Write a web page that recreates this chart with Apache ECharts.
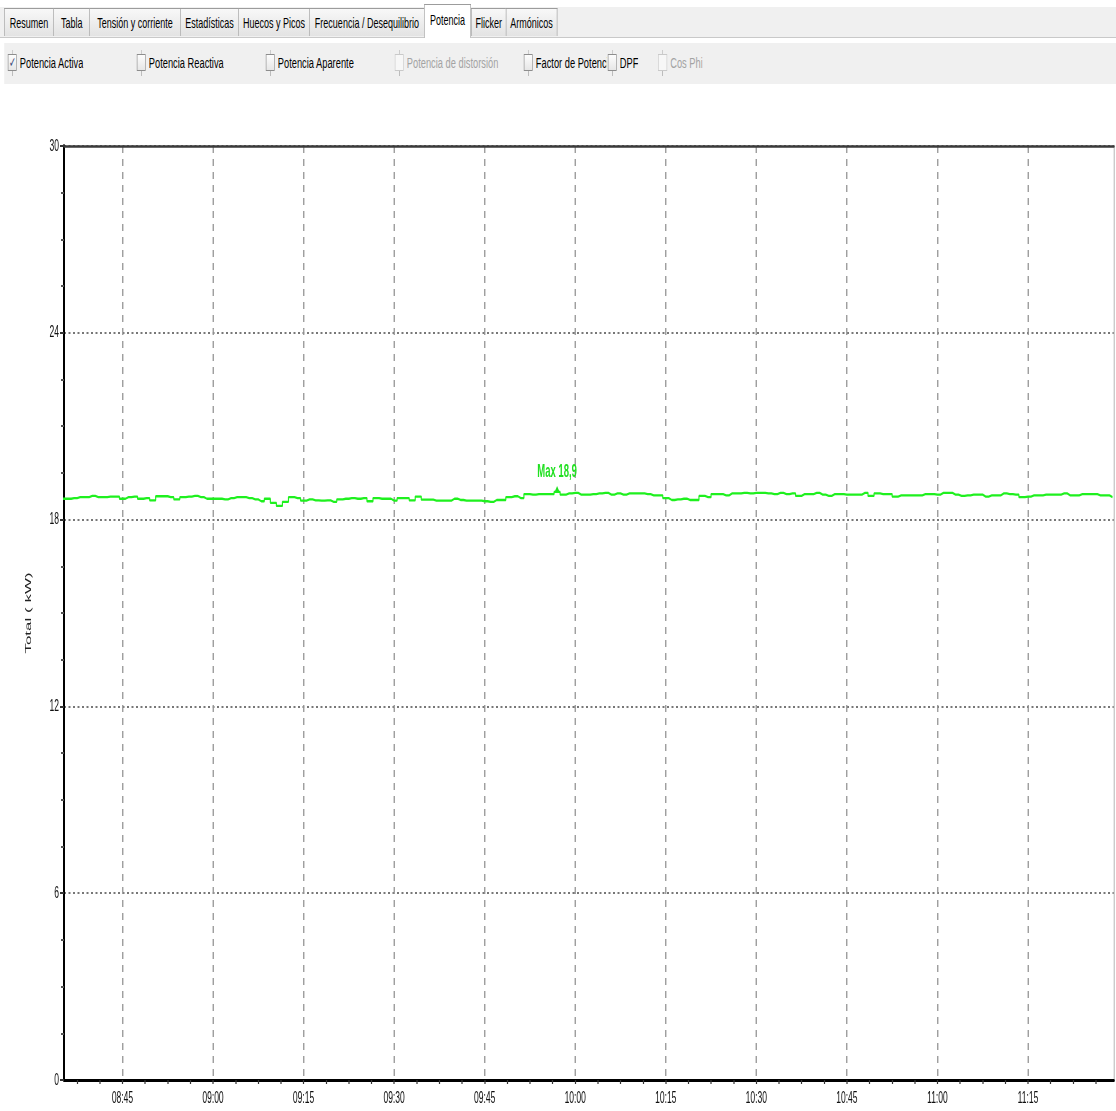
<!DOCTYPE html>
<html>
<head>
<meta charset="utf-8">
<script src="https://cdn.jsdelivr.net/npm/echarts@6/dist/echarts.min.js"></script>
<style>
  html, body { margin:0; padding:0; background:#fff; overflow:hidden; width:1116px; height:1111px; }
  #wrap { position:absolute; left:0; top:0; width:1860px; height:90px; transform:scaleX(0.6); transform-origin:0 0; }
  .ui { font-family:'Liberation Sans', Arial, sans-serif; font-size:15px; color:#000; white-space:nowrap; }
  #tabbar { position:absolute; left:0; top:7px; width:1860px; height:30px; background:#f0f0f0; border-bottom:1px solid #c9c9c9; }
  .tab { position:absolute; top:8px; height:28px; line-height:28px; text-align:center; border:1px solid #9c9c9c; border-bottom:none; border-right:none; background:linear-gradient(#f8f8f8,#e3e3e3); box-sizing:border-box; }
  .tab.active { top:4px; height:34px; line-height:30px; background:#fff; border:1px solid #9c9c9c; border-bottom:none; z-index:2; }
  #checks { position:absolute; left:7px; top:43px; width:1853px; height:41px; background:#f0f0f0; }
  .cb { position:absolute; top:54px; width:15px; height:17px; border:1px solid #8d8d8d; background:linear-gradient(#fdfdfd,#e6e6e6); box-sizing:border-box; font-size:14px; line-height:15px; text-align:center; color:#3a4a7a; }
  .cb::after { content:''; position:absolute; left:6px; top:16px; width:1px; height:5px; background:#9a9a9a; }
  .cb::before { content:''; position:absolute; left:6px; top:-5px; width:1px; height:4px; background:#b5b5b5; }
  .cb.dis { border-color:#c9c9c9; background:#f7f7f7; }
  .lbl { position:absolute; top:54px; height:18px; line-height:18px; overflow:hidden; font-size:15.5px; }
  .lbl.dis { color:#a3a3a3; }
  #chartwrap { position:absolute; left:0; top:90px; width:2232px; height:1021px; transform:scaleX(0.5); transform-origin:0 0; }
  #chart { position:absolute; left:0; top:0; width:2232px; height:1021px; }
</style>
</head>
<body>
<div id="wrap">
  <div id="tabbar" class="ui"></div>
  <div class="ui">
    <div class="tab" style="left:7px;width:82px;">Resumen</div>
    <div class="tab" style="left:89px;width:60px;">Tabla</div>
    <div class="tab" style="left:149px;width:151px;">Tensión y corriente</div>
    <div class="tab" style="left:300px;width:97px;">Estadísticas</div>
    <div class="tab" style="left:397px;width:118px;">Huecos y Picos</div>
    <div class="tab" style="left:515px;width:192px;">Frecuencia / Desequilibrio</div>
    <div class="tab active" style="left:707px;width:78px;">Potencia</div>
    <div class="tab" style="left:785px;width:58px;">Flicker</div>
    <div class="tab" style="left:843px;width:86px;border-right:1px solid #9c9c9c;">Armónicos</div>
  </div>
  <div id="checks"></div>
  <div class="ui">
    <div class="cb" style="left:13px;">✓</div><div class="lbl" style="left:33px;">Potencia Activa</div>
    <div class="cb" style="left:228px;"></div><div class="lbl" style="left:248px;">Potencia Reactiva</div>
    <div class="cb" style="left:443px;"></div><div class="lbl" style="left:463px;">Potencia Aparente</div>
    <div class="cb dis" style="left:658px;"></div><div class="lbl dis" style="left:678px;">Potencia de distorsión</div>
    <div class="cb" style="left:873px;"></div><div class="lbl" style="left:893px;width:118px;">Factor de Potencia</div>
    <div class="cb" style="left:1013px;"></div><div class="lbl" style="left:1033px;">DPF</div>
    <div class="cb dis" style="left:1097px;"></div><div class="lbl dis" style="left:1117px;">Cos Phi</div>
  </div>
</div>
<div id="chartwrap"><div id="chart"></div></div>
<script>
// ---------- data ----------
const times = [
  '08:35','08:36','08:37','08:38','08:39','08:40','08:41','08:42','08:43','08:44',
  '08:45','08:46','08:47','08:48','08:49','08:50','08:51','08:52','08:53','08:54',
  '08:55','08:56','08:57','08:58','08:59','09:00','09:01','09:02','09:03','09:04',
  '09:05','09:06','09:07','09:08','09:09','09:10','09:11','09:12','09:13','09:14',
  '09:15','09:16','09:17','09:18','09:19','09:20','09:21','09:22','09:23','09:24',
  '09:25','09:26','09:27','09:28','09:29','09:30','09:31','09:32','09:33','09:34',
  '09:35','09:36','09:37','09:38','09:39','09:40','09:41','09:42','09:43','09:44',
  '09:45','09:46','09:47','09:48','09:49','09:50','09:51','09:52','09:53','09:54',
  '09:55','09:56','09:57','09:58','09:59','10:00','10:01','10:02','10:03','10:04',
  '10:05','10:06','10:07','10:08','10:09','10:10','10:11','10:12','10:13','10:14',
  '10:15','10:16','10:17','10:18','10:19','10:20','10:21','10:22','10:23','10:24',
  '10:25','10:26','10:27','10:28','10:29','10:30','10:31','10:32','10:33','10:34',
  '10:35','10:36','10:37','10:38','10:39','10:40','10:41','10:42','10:43','10:44',
  '10:45','10:46','10:47','10:48','10:49','10:50','10:51','10:52','10:53','10:54',
  '10:55','10:56','10:57','10:58','10:59','11:00','11:01','11:02','11:03','11:04',
  '11:05','11:06','11:07','11:08','11:09','11:10','11:11','11:12','11:13','11:14',
  '11:15','11:16','11:17','11:18','11:19','11:20','11:21','11:22','11:23','11:24',
  '11:25','11:26','11:27','11:28','11:29'
];
const activePowerKW = [
  18.67,18.67,18.69,18.72,18.72,18.76,18.72,18.72,18.74,18.74,
  18.67,18.72,18.74,18.67,18.69,18.62,18.75,18.75,18.72,18.65,
  18.72,18.74,18.76,18.72,18.67,18.67,18.67,18.65,18.69,18.72,
  18.72,18.69,18.65,18.59,18.67,18.54,18.44,18.57,18.72,18.69,
  18.61,18.65,18.62,18.61,18.62,18.57,18.65,18.67,18.69,18.67,
  18.69,18.59,18.69,18.67,18.67,18.61,18.69,18.69,18.62,18.74,
  18.64,18.64,18.61,18.61,18.61,18.67,18.63,18.61,18.61,18.61,
  18.59,18.57,18.63,18.63,18.72,18.75,18.69,18.82,18.80,18.82,
  18.82,18.82,18.89,18.80,18.84,18.86,18.80,18.80,18.82,18.84,
  18.86,18.80,18.84,18.80,18.84,18.84,18.84,18.82,18.78,18.78,
  18.69,18.63,18.65,18.67,18.63,18.63,18.76,18.72,18.82,18.82,
  18.78,18.84,18.84,18.86,18.84,18.86,18.86,18.84,18.82,18.86,
  18.82,18.84,18.76,18.82,18.82,18.86,18.80,18.76,18.82,18.82,
  18.80,18.80,18.80,18.86,18.76,18.84,18.82,18.82,18.74,18.78,
  18.78,18.78,18.78,18.82,18.82,18.80,18.86,18.86,18.80,18.76,
  18.78,18.80,18.80,18.74,18.78,18.78,18.84,18.82,18.80,18.72,
  18.74,18.78,18.78,18.80,18.80,18.80,18.84,18.78,18.78,18.82,
  18.82,18.82,18.78,18.78,18.72
];
const xTickLabels = ['08:45','09:00','09:15','09:30','09:45','10:00','10:15','10:30','10:45','11:00','11:15'];
const xAxisStart = '08:35:19';
const xAxisEnd = '11:29:15';
const yTicks = [0, 6, 12, 18, 24, 30];
const yAxisTitle = 'Total ( kW)';
// ---------- helpers ----------
function toMin(s) { const p = s.split(':').map(Number); return p[0] * 60 + p[1] + (p[2] || 0) / 60; }
function fmt(v) { const h = Math.floor(v / 60 + 1e-6), m = Math.round(v - h * 60); return String(h).padStart(2, '0') + ':' + String(m).padStart(2, '0'); }
const S = 0.5; // horizontal squeeze of the chart canvas
const xMin = toMin(xAxisStart), xMax = toMin(xAxisEnd);
const majorVals = xTickLabels.map(toMin);
const majorStep = majorVals[1] - majorVals[0];
const minorStep = majorStep / 4;
const minorVals = [];
for (let v = majorVals[0]; v - minorStep >= xMin; v -= minorStep) minorVals.unshift(v - minorStep);
for (let v = majorVals[0]; v <= xMax; v += minorStep) minorVals.push(v);
const seriesData = times.map((t, i) => [toMin(t), activePowerKW[i]]);
const FONT = "'Liberation Sans', Arial, sans-serif";
const GREEN = '#1ef01e';

const chart = echarts.init(document.getElementById('chart'), null, { renderer: 'canvas' });
chart.setOption({
  animation: false,
  backgroundColor: '#fff',
  grid: { left: 64 / S, right: 2 / S, top: 56, bottom: 31, containLabel: false },
  xAxis: [
    {
      type: 'value', min: xMin, max: xMax, position: 'bottom',
      axisLine: { show: true, onZero: false, lineStyle: { color: '#000', width: 3 } },
      axisTick: { show: true, customValues: minorVals, length: 4, lineStyle: { color: '#333', width: 2.4 } },
      axisLabel: { customValues: majorVals, formatter: fmt, fontFamily: FONT, fontSize: 17, color: '#111', margin: 10 },
      splitLine: { show: false }
    },
    {
      type: 'value', min: xMin, max: xMax, position: 'top',
      axisLine: { show: true, onZero: false, lineStyle: { color: '#3a3a3a', width: 2.5 } },
      axisTick: { show: false, customValues: majorVals },
      axisLabel: { show: false, customValues: majorVals },
      splitLine: { show: true, lineStyle: { type: [7, 6], color: '#959595', width: 2.6 } }
    }
  ],
  yAxis: [
    {
      type: 'value', min: yTicks[0], max: yTicks[yTicks.length - 1], interval: yTicks[1] - yTicks[0], position: 'left',
      name: yAxisTitle, nameLocation: 'middle', nameGap: 62, nameRotate: 90,
      nameTextStyle: { fontFamily: FONT, fontSize: 17, color: '#222' },
      axisLine: { show: true, onZero: false, lineStyle: { color: '#000', width: 4 } },
      axisTick: { show: true, length: 8, lineStyle: { color: '#333', width: 2 } },
      minorTick: { show: true, splitNumber: 4, length: 6, lineStyle: { color: '#555', width: 2 } },
      axisLabel: { fontFamily: FONT, fontSize: 17, color: '#111', margin: 10 },
      splitLine: { show: true, lineStyle: { type: [4, 5], color: '#777', width: 2 } }
    },
    {
      type: 'value', min: yTicks[0], max: yTicks[yTicks.length - 1], position: 'right',
      axisLine: { show: true, onZero: false, lineStyle: { color: '#c4c4c4', width: 2.5 } },
      axisTick: { show: false }, axisLabel: { show: false }, splitLine: { show: false }
    }
  ],
  series: [{
    type: 'line', xAxisIndex: 0, yAxisIndex: 0,
    data: seriesData, step: 'middle', showSymbol: false, symbol: 'none',
    lineStyle: { color: GREEN, width: 2.3 }, itemStyle: { color: GREEN },
    z: 5,
    markPoint: {
      symbol: 'triangle', symbolSize: [10, 6], symbolOffset: [0, -3],
      itemStyle: { color: '#20e020' },
      label: {
        show: true, position: 'top', distance: 5,
        formatter: p => 'Max ' + p.value.toFixed(1).replace('.', ','),
        color: '#20e020', fontWeight: 'bold', fontSize: 19, fontFamily: FONT
      },
      data: [{ type: 'max', name: 'Max' }]
    }
  }]
});
</script>
</body>
</html>
